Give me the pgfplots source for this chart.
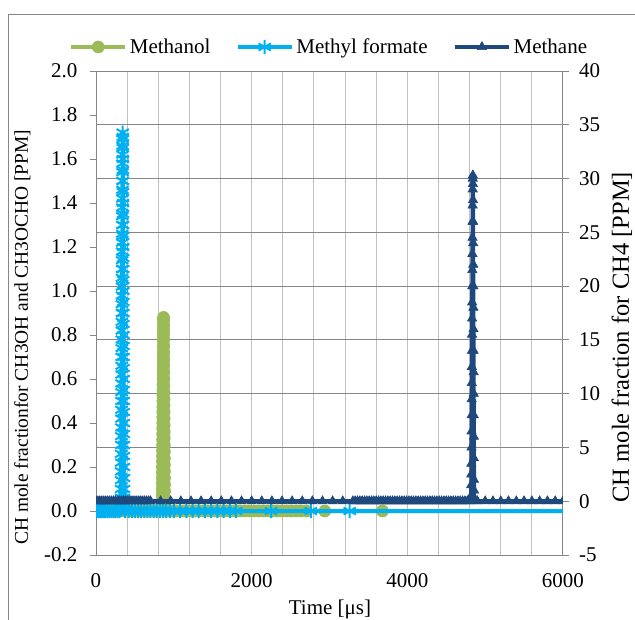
\documentclass[border=0pt]{standalone}
\usepackage{fontspec}
\setmainfont{Liberation Serif}
\usepackage{pgfplots}
\pgfplotsset{compat=1.18}

\definecolor{cMeOH}{HTML}{9BBB59}
\definecolor{cMF}{HTML}{00B0F0}
\definecolor{cCH4}{HTML}{1F497D}
\definecolor{axgray}{HTML}{868686}
\definecolor{gridlight}{HTML}{C0C0C0}

\newcommand\cf{\fontsize{15.75}{19}\selectfont}
\newcommand\lfl{\fontsize{14.6}{18}\selectfont}
\newcommand\lfr{\fontsize{18.4}{22}\selectfont}

% methanol, ppm (left axis)
\pgfplotstableread{
x y
0 0
40 0
80 0
120 0
160 0
200 0
240 0
280 0
320 0
360 0
400 0
440 0
480 0
520 0
560 0
600 0
640 0
680 0
720 0
760 0
800 0
835 0.005
845 0.01
850 0.025
850.5 0.05
851 0.075
851.5 0.1
852 0.125
852.5 0.15
853 0.175
853.5 0.2
854 0.225
854.5 0.25
855 0.275
855.5 0.3
856 0.325
856.5 0.35
857 0.375
857.5 0.4
858 0.425
858.5 0.45
859 0.475
859.5 0.5
860 0.525
860.5 0.55
861 0.575
861.5 0.6
862 0.625
862.5 0.65
863 0.675
863.5 0.7
864 0.725
864.5 0.75
865 0.775
865.5 0.8
866 0.825
866.5 0.85
867 0.87
867.5 0.88
868 0.87
868.5 0.84
869 0.81
869.5 0.78
870 0.75
870.5 0.72
871 0.69
871.5 0.66
872 0.63
872.5 0.6
873 0.57
873.5 0.54
874 0.51
874.5 0.48
875 0.45
875.5 0.42
876 0.39
876.5 0.36
877 0.33
877.5 0.3
878 0.27
878.5 0.24
879 0.21
879.5 0.18
880 0.15
880.5 0.12
881 0.09
882 0.06
883 0.03
885 0.01
890 0
930 0
980 0
1030 0
1080 0
1130 0
1180 0
1230 0
1280 0
1330 0
1380 0
1430 0
1480 0
1530 0
1580 0
1630 0
1680 0
1730 0
1780 0
1850 0
1910 0
1970 0
2030 0
2090 0
2150 0
2210 0
2270 0
2330 0
2390 0
2450 0
2510 0
2570 0
2630 0
2700 0
2940 0
3680 0
6500 0
}\meoh

% methyl formate, ppm (left axis)
\pgfplotstableread{
x y
0 0
25 0
50 0
75 0
100 0
125 0
150 0
175 0
200 0
225 0
250 0
275 0
300 0
315 0.005
322 0.02
322.5 0.06
323 0.10
323.5 0.14
324 0.18
324.5 0.22
325 0.26
325.5 0.30
326 0.34
326.5 0.38
327 0.42
327.5 0.46
328 0.50
328.5 0.54
329 0.58
329.5 0.62
330 0.66
330.5 0.70
331 0.74
331.5 0.78
332 0.82
332.5 0.86
333 0.90
333.5 0.94
334 0.98
334.5 1.02
335 1.06
335.5 1.10
336 1.14
336.5 1.18
337 1.22
337.5 1.26
338 1.30
338.5 1.34
339 1.38
339.5 1.42
340 1.46
340.5 1.50
341 1.54
341.5 1.58
342 1.62
342.5 1.66
343 1.69
343.5 1.72
344 1.70
344.5 1.65
345 1.60
345.5 1.55
346 1.50
346.5 1.45
347 1.40
347.5 1.35
348 1.30
348.5 1.25
349 1.20
349.5 1.15
350 1.10
350.5 1.05
351 1.00
351.5 0.95
352 0.90
352.5 0.85
353 0.80
353.5 0.75
354 0.70
354.5 0.65
355 0.60
355.5 0.55
356 0.50
356.5 0.45
357 0.40
357.5 0.35
358 0.30
358.5 0.25
359 0.20
359.5 0.15
360 0.10
361 0.06
362 0.03
365 0.01
375 0
420 0
460 0
500 0
540 0
580 0
620 0
660 0
700 0
740 0
780 0
820 0
860 0
900 0
950 0
1000 0
1080 0
1160 0
1240 0
1320 0
1400 0
1480 0
1560 0
1640 0
1720 0
1800 0
2250 0
2760 0
3260 0
6500 0
}\mf

% methane, ppm (right axis)
\pgfplotstableread{
x y
0 0
25 0
50 0
75 0
100 0
125 0
150 0
175 0
200 0
225 0
250 0
275 0
300 0
325 0
350 0
375 0
400 0
425 0
450 0
475 0
500 0
525 0
550 0
575 0
600 0
625 0
650 0
675 0
700 0
830 0
960 0
1090 0
1220 0
1350 0
1480 0
1610 0
1740 0
1870 0
2000 0
2130 0
2260 0
2390 0
2520 0
2650 0
2780 0
2910 0
3040 0
3170 0
3300 0
3330 0
3360 0
3390 0
3420 0
3450 0
3480 0
3510 0
3540 0
3570 0
3600 0
3630 0
3660 0
3690 0
3720 0
3750 0
3780 0
3810 0
3840 0
3870 0
3900 0
3930 0
3960 0
3990 0
4020 0
4050 0
4080 0
4110 0
4140 0
4170 0
4200 0
4230 0
4260 0
4290 0
4320 0
4350 0
4380 0
4410 0
4440 0
4470 0
4500 0
4530 0
4560 0
4590 0
4620 0
4650 0
4680 0
4710 0
4740 0
4770 0
4800 0
4815 0.1
4820 0.5
4821 1.5
4822 2.5
4823 3.5
4824 5.0
4825 6.5
4826 8.0
4827 9.5
4828 11.0
4829 12.5
4830 14.0
4831 15.5
4832 17.0
4833 18.5
4834 20.0
4835 21.5
4836 23.0
4837 24.5
4838 26.0
4839 27.5
4840 29.0
4841 30.0
4842 30.3
4843 29.5
4844 28.0
4845 26.0
4846 24.0
4847 22.0
4848 20.0
4849 18.0
4850 16.0
4851 14.0
4852 12.0
4853 10.0
4854 8.0
4855 6.0
4856 4.0
4857 2.0
4858 1.0
4860 0.3
4870 0
4900 0
5000 0
5100 0
5200 0
5300 0
5400 0
5500 0
5600 0
5700 0
5800 0
5900 0
6000 0
}\chfour

\pgfplotsset{
  set layers,
  common/.style={
    scale only axis, width=350.25pt, height=363pt,
    at={(0pt,0pt)}, anchor=south west,
    xmin=0, xmax=6000,
    clip marker paths=true,
    /pgf/number format/assume math mode=true,
    /pgf/number format/1000 sep={},
    tick align=outside, major tick length=4.5pt, minor tick length=0pt,
    axis line style={draw=axgray, line width=0.75pt},
    every tick/.style={draw=axgray, line width=0.75pt},
  },
  meoh/.style={color=cMeOH, line width=3pt, mark=*, mark size=4.5pt,
    mark options={fill=cMeOH, draw=cMeOH, line width=0.5pt}},
  mf/.style={color=cMF, line width=3pt, mark=asterisk, mark size=5.3pt,
    mark options={draw=cMF, line width=1.5pt}},
  ch4/.style={color=cCH4, line width=3pt, mark=triangle*, mark size=4pt,
    mark options={fill=cCH4, draw=cCH4, line width=0.5pt}},
}

\begin{document}
\begin{tikzpicture}[font=\cf]
\begin{axis}[common,
  axis y line*=left, axis x line*=bottom,
  ymin=-0.2, ymax=2.0,
  ytick={-0.2,0,0.2,0.4,0.6,0.8,1.0,1.2,1.4,1.6,1.8,2.0},
  yticklabel style={/pgf/number format/fixed, /pgf/number format/fixed zerofill,
    /pgf/number format/precision=1, xshift=-6pt},
  xtick={0,2000,4000,6000},
  minor xtick={400,800,1200,1600,2400,2800,3200,3600,4400,4800,5200,5600},
  x tick style={draw=none},
  xmajorgrids, xminorgrids,
  major grid style={draw=gridlight, line width=0.75pt},
  minor grid style={draw=gridlight, line width=0.75pt},
  xticklabel style={yshift=-6pt},
  xlabel={Time [μs]},
  xlabel style={at={(axis description cs:0.501,-0.113)}, anchor=center},
  ylabel={CH mole fractionfor CH3OH and CH3OCHO [PPM]},
  ylabel style={font=\lfl, at={(axis description cs:-0.158,0.45)}, anchor=center},
]
\addplot[meoh] table[x=x, y=y] {\meoh};
\addplot[mf] table[x=x, y=y] {\mf};
\end{axis}

\begin{axis}[common,
  axis y line*=right, axis x line=none,
  xtick=\empty,
  ymin=-5, ymax=40,
  ytick={-5,0,5,10,15,20,25,30,35,40},
  ymajorgrids,
  major grid style={draw=axgray, line width=0.75pt},
  yticklabel style={xshift=4pt},
  ylabel={CH mole fraction for CH4 [PPM]},
  ylabel style={font=\lfr, at={(axis description cs:1.126,0.45)}, anchor=center},
  legend columns=3,
  legend style={at={(axis description cs:0.5,1.0496)}, anchor=center,
    draw=none, fill=none,
    /tikz/every even column/.append style={column sep=17pt}},
  legend image code/.code={\draw[mark repeat=2, mark phase=2, #1]
    plot coordinates {(0pt,0pt) (20.25pt,0pt) (40.5pt,0pt)};},
]
\addlegendimage{meoh}
\addlegendentry{Methanol}
\addlegendimage{mf}
\addlegendentry{Methyl formate}
\addplot[ch4] table[x=x, y=y] {\chfour};
\addlegendentry{Methane}
\end{axis}

\draw[axgray, line width=0.75pt] (-65.25pt,-80pt) -- (-65.25pt,405pt) -- (440pt,405pt);
\pgfresetboundingbox
\path[use as bounding box] (-72pt,-48pt) rectangle (404.25pt,416.25pt);
\end{tikzpicture}
\end{document}
